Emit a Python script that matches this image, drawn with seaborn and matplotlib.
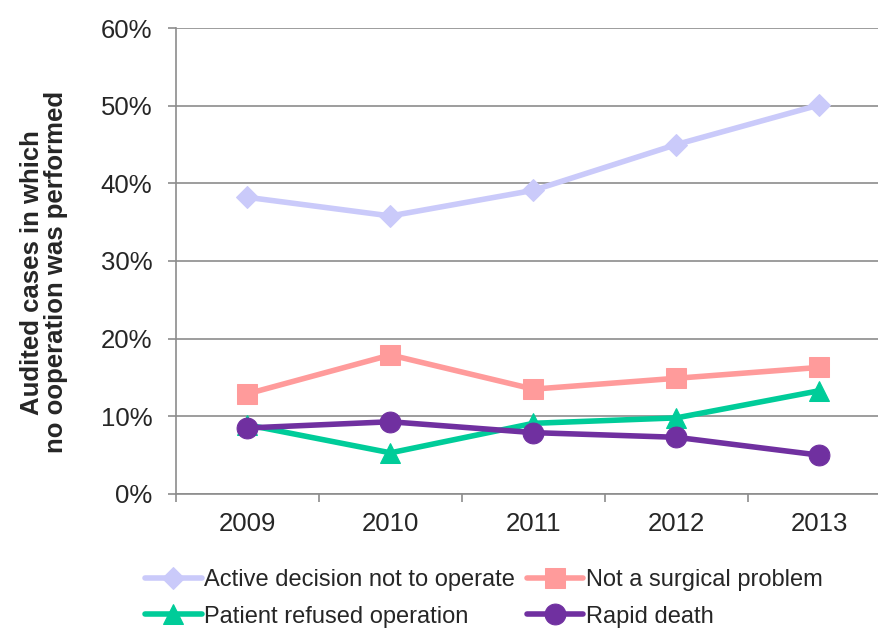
import pandas as pd
import matplotlib.pyplot as plt
import seaborn as sns
import numpy as np
from matplotlib.ticker import PercentFormatter, FixedLocator

years = ["2009", "2010", "2011", "2012", "2013"]
active = [38.2, 35.8, 39.1, 45.0, 50.1]
not_surgical = [12.9, 17.9, 13.5, 14.9, 16.3]
refused = [8.9, 5.3, 9.1, 9.8, 13.3]
rapid_death = [8.5, 9.3, 7.9, 7.3, 5.0]

series = {
    "Active decision not to operate": active,
    "Not a surgical problem": not_surgical,
    "Patient refused operation": refused,
    "Rapid death": rapid_death,
}
colors = ["#CACAFA", "#FF9B9B", "#00CC99", "#7030A0"]
markers = ["D", "s", "^", "o"]
msizes = [11, 15, 15, 15]

df = pd.DataFrame({"year": years * 4,
                   "series": np.repeat(list(series.keys()), len(years)),
                   "value": np.concatenate(list(series.values()))})

sns.set_style("white")
plt.rcParams['font.family'] = ['Liberation Sans', 'DejaVu Sans']

fig = plt.figure(figsize=(8.79, 6.28), dpi=100)
ax = fig.add_axes([0.2002, 0.2134, 0.8134, 0.742])

for name, c, m, ms in zip(series.keys(), colors, markers, msizes):
    sub = df[df["series"] == name]
    sns.lineplot(data=sub, x="year", y="value", color=c, marker=m, markersize=ms,
                 markeredgecolor=c, linewidth=4.0, label=name, ax=ax, sort=False)

ax.set_ylim(0, 60)
ax.set_xlim(-0.5, 4.5)
ax.set_yticks(np.arange(0, 61, 10))
ax.yaxis.set_major_formatter(PercentFormatter(decimals=0))
ax.grid(axis="y", color="#8c8c8c", linewidth=1.2)
ax.set_axisbelow(True)
ax.set_xticks(range(5))
ax.set_xticklabels(years)
ax.xaxis.set_minor_locator(FixedLocator(np.arange(-0.5, 5, 1)))
ax.tick_params(axis="x", which="major", length=0, labelsize=18.5, pad=13)
ax.tick_params(axis="x", which="minor", length=6, width=1.2, color="#8c8c8c", direction="out")
ax.tick_params(axis="y", length=6, width=1.2, color="#8c8c8c", direction="out", labelsize=18.5, pad=11)
ax.tick_params(axis="both", which="both", bottom=True, left=True)

for s in ["top", "right"]:
    ax.spines[s].set_visible(False)
for s in ["left", "bottom"]:
    ax.spines[s].set_color("#8c8c8c")
    ax.spines[s].set_linewidth(1.2)

ax.set_xlabel("")
ax.set_ylabel("Audited cases in which\nno ooperation was performed",
              fontsize=18.5, fontweight="bold", linespacing=1.0)
ax.yaxis.set_label_coords(-0.151, 0.476)

ax.get_legend().remove()
handles, labels = ax.get_legend_handles_labels()
order = [0, 2, 1, 3]
fig.legend([handles[i] for i in order], [labels[i] for i in order],
           loc="upper left", bbox_to_anchor=(0.165, 0.094), ncol=2,
           frameon=False, fontsize=17, handlelength=2.4, handletextpad=0.1,
           columnspacing=0.5, labelspacing=0.62, borderpad=0, borderaxespad=0)

fig.savefig("out.png", dpi=100)
